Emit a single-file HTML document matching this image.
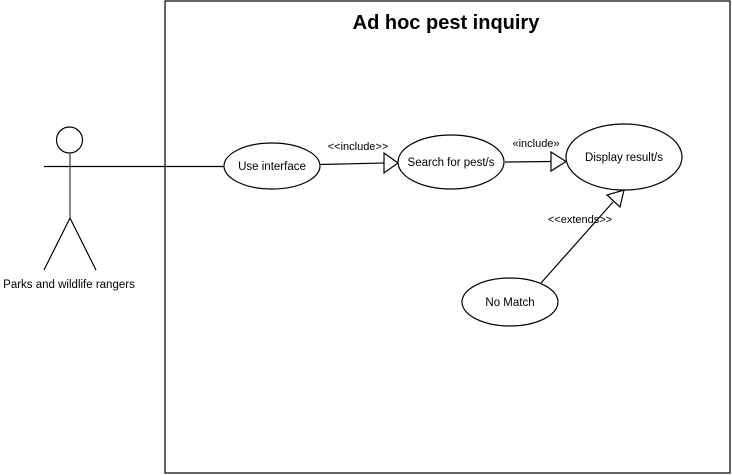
<!DOCTYPE html>
<html><head><meta charset="utf-8"><style>
html,body{margin:0;padding:0;background:#fff;width:732px;height:475px;overflow:hidden}
svg{display:block}
text{font-family:"Liberation Sans",sans-serif;fill:#000}
</style></head><body>
<svg width="732" height="475" viewBox="0 0 732 475">
<rect x="165" y="1" width="565" height="472" fill="none" stroke="#000" stroke-width="1.2"/>
<text x="446" y="29" font-size="20" font-weight="bold" text-anchor="middle">Ad hoc pest inquiry</text>
<!-- actor -->
<circle cx="69.5" cy="140" r="13" fill="none" stroke="#000" stroke-width="1.2"/>
<line x1="70" y1="153" x2="70" y2="218" stroke="#555" stroke-width="1.4"/>
<line x1="44" y1="166.5" x2="224" y2="166.5" stroke="#000" stroke-width="1.2"/>
<line x1="70" y1="218" x2="44" y2="270" stroke="#000" stroke-width="1.2"/>
<line x1="70" y1="218" x2="96" y2="270" stroke="#000" stroke-width="1.2"/>
<text x="69" y="288" font-size="11.5" text-anchor="middle">Parks and wildlife rangers</text>
<!-- ellipses -->
<ellipse cx="272" cy="166" rx="48" ry="23" fill="#fff" stroke="#000" stroke-width="1.2"/>
<text x="272" y="170" font-size="11.5" text-anchor="middle">Use interface</text>
<ellipse cx="451" cy="162" rx="53" ry="27" fill="#fff" stroke="#000" stroke-width="1.2"/>
<text x="451" y="166" font-size="11.5" text-anchor="middle">Search for pest/s</text>
<ellipse cx="624" cy="157" rx="58" ry="33" fill="#fff" stroke="#000" stroke-width="1.2"/>
<text x="624" y="161" font-size="11.5" text-anchor="middle">Display result/s</text>
<ellipse cx="510" cy="302" rx="48" ry="24" fill="#fff" stroke="#000" stroke-width="1.2"/>
<text x="510" y="306" font-size="11.5" text-anchor="middle">No Match</text>
<!-- connectors -->
<line x1="320" y1="164.5" x2="384" y2="163" stroke="#000" stroke-width="1.2"/>
<polygon points="384,153 398,163 384,173" fill="#fff" stroke="#000" stroke-width="1.2"/>
<text x="358" y="150" font-size="11" text-anchor="middle">&lt;&lt;include&gt;&gt;</text>
<line x1="505" y1="162" x2="551" y2="161.5" stroke="#000" stroke-width="1.2"/>
<polygon points="551,152 566,161.5 551,171" fill="#fff" stroke="#000" stroke-width="1.2"/>
<text x="536" y="147" font-size="11" text-anchor="middle">«include»</text>
<line x1="541" y1="283" x2="613" y2="202" stroke="#000" stroke-width="1.2"/>
<polygon points="624,190 620,207 607,195" fill="#fff" stroke="#000" stroke-width="1.2"/>
<text x="580" y="223" font-size="11" text-anchor="middle">&lt;&lt;extends&gt;&gt;</text>
</svg>
</body></html>
